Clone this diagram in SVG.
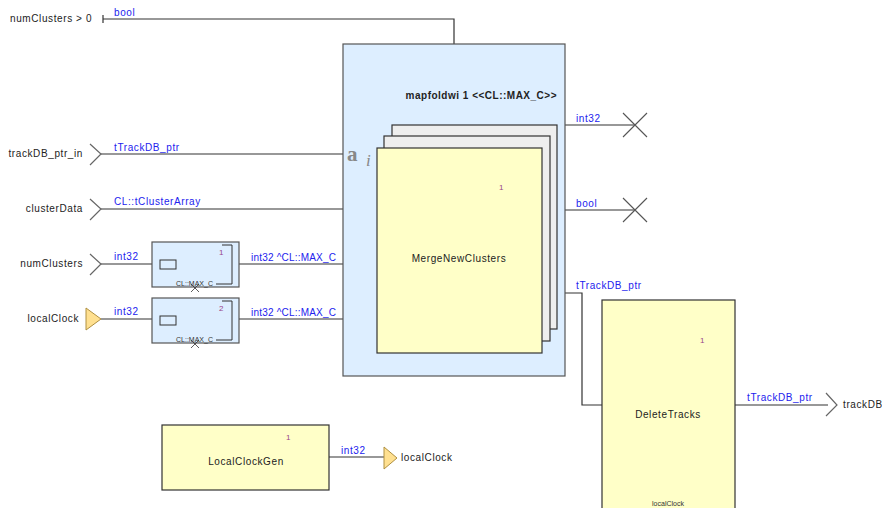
<svg xmlns="http://www.w3.org/2000/svg" width="882" height="508" viewBox="0 0 882 508">
<style>
.lbl{font-family:"Liberation Sans",Arial,sans-serif;font-size:10px;fill:#222;letter-spacing:0.6px}
.typ{font-family:"Liberation Sans",Arial,sans-serif;font-size:10px;fill:#2222ee;letter-spacing:0.6px}
.num{font-family:"Liberation Sans",Arial,sans-serif;font-size:8px;fill:#994488}
.tiny{font-family:"Liberation Sans",Arial,sans-serif;font-size:7px;fill:#333}
.wire{stroke:#333;stroke-width:1.2;fill:none}
.op{fill:#ffffc8;stroke:#333;stroke-width:1.2}
.it{fill:#ddeeff;stroke:#555;stroke-width:1.2}
.pg{fill:#eeeeee;stroke:#333;stroke-width:1.2}
.chev{stroke:#666;stroke-width:1.2;fill:none}
.tri{fill:#ffe090;stroke:#b09040;stroke-width:1}
</style>

<g id="connectors">
  <polyline class="wire" points="103,19 454,19 454,44"/>
  <line class="wire" x1="103" y1="15" x2="103" y2="23"/>
  <line class="wire" x1="101" y1="154" x2="343" y2="154"/>
  <line class="wire" x1="101" y1="209" x2="343" y2="209"/>
  <line class="wire" x1="101" y1="264" x2="152" y2="264"/>
  <line class="wire" x1="101" y1="319" x2="152" y2="319"/>
  <line class="wire" x1="239" y1="264" x2="343" y2="264"/>
  <line class="wire" x1="239" y1="319" x2="343" y2="319"/>
  <line class="wire" x1="565" y1="125" x2="635" y2="125"/>
  <line class="wire" x1="565" y1="210" x2="635" y2="210"/>
  <polyline class="wire" points="565,293 582,293 582,405 602,405"/>
  <line class="wire" x1="735" y1="405" x2="828" y2="405"/>
  <line class="wire" x1="329" y1="457" x2="384" y2="457"/>
  <text class="typ" x="114" y="16">bool</text>
  <text class="typ" x="114" y="151">tTrackDB_ptr</text>
  <text class="typ" x="114" y="205">CL::tClusterArray</text>
  <text class="typ" x="114" y="260">int32</text>
  <text class="typ" x="114" y="315">int32</text>
  <text class="typ" x="251" y="261" style="letter-spacing:0.2px">int32 ^CL::MAX_C</text>
  <text class="typ" x="251" y="316" style="letter-spacing:0.2px">int32 ^CL::MAX_C</text>
  <text class="typ" x="576" y="122">int32</text>
  <text class="typ" x="576" y="207">bool</text>
  <text class="typ" x="576" y="289">tTrackDB_ptr</text>
  <text class="typ" x="747" y="401">tTrackDB_ptr</text>
  <text class="typ" x="341" y="454">int32</text>
</g>

<g id="in_numClustersGt0">
  <text class="lbl" x="10" y="22">numClusters &gt; 0</text>
</g>
<g id="in_trackDB_ptr_in">
  <text class="lbl" x="83" y="157" text-anchor="end">trackDB_ptr_in</text>
  <polyline class="chev" points="90,144 101,154 90,165"/>
</g>
<g id="in_clusterData">
  <text class="lbl" x="83" y="212" text-anchor="end">clusterData</text>
  <polyline class="chev" points="90,199 101,209 90,220"/>
</g>
<g id="in_numClusters">
  <text class="lbl" x="83" y="267" text-anchor="end">numClusters</text>
  <polyline class="chev" points="90,254 101,264 90,275"/>
</g>
<g id="in_localClock">
  <text class="lbl" x="79" y="322" text-anchor="end">localClock</text>
  <polygon class="tri" points="86,308 101,319 86,330"/>
</g>

<g id="rep1">
  <rect class="it" x="152" y="242" width="87" height="45"/>
  <rect x="160" y="260" width="16" height="9" fill="none" stroke="#333" stroke-width="1"/>
  <polyline fill="none" stroke="#333" stroke-width="1" points="222,245 232,245 232,284 216,284"/>
  <text class="num" x="219" y="255">1</text>
  <text class="tiny" x="176" y="286">CL::MAX_C</text>
  <path d="M191,284 L199,292 M199,284 L191,292" stroke="#333" stroke-width="0.8"/>
</g>
<g id="rep2">
  <rect class="it" x="152" y="298" width="87" height="45"/>
  <rect x="160" y="316" width="16" height="9" fill="none" stroke="#333" stroke-width="1"/>
  <polyline fill="none" stroke="#333" stroke-width="1" points="222,301 232,301 232,340 216,340"/>
  <text class="num" x="219" y="311">2</text>
  <text class="tiny" x="176" y="342">CL::MAX_C</text>
  <path d="M191,340 L199,348 M199,340 L191,348" stroke="#333" stroke-width="0.8"/>
</g>

<g id="mapfold">
  <rect class="it" x="343" y="44" width="222" height="332"/>
  <text x="557" y="99" text-anchor="end" font-family="Liberation Sans,Arial,sans-serif" font-size="10" font-weight="bold" fill="#222" letter-spacing="0.5">mapfoldwi 1 &lt;&lt;CL::MAX_C&gt;&gt;</text>
  <text x="347" y="161" font-family="Liberation Serif,serif" font-size="21" font-weight="bold" fill="#888">a</text>
  <text x="366" y="166" font-family="Liberation Serif,serif" font-size="17" font-style="italic" fill="#888">i</text>
  <rect class="pg" x="392" y="125" width="165" height="204"/>
  <rect class="pg" x="384" y="136" width="166" height="205"/>
</g>
<g id="MergeNewClusters">
  <rect class="op" x="377" y="148" width="165" height="205"/>
  <text class="num" x="499" y="190">1</text>
  <text class="lbl" x="459" y="262" text-anchor="middle">MergeNewClusters</text>
</g>

<g id="out_int32">
  <path d="M623,113 L647,137 M647,113 L623,137" stroke="#555" stroke-width="1.1"/>
</g>
<g id="out_bool">
  <path d="M623,198 L647,222 M647,198 L623,222" stroke="#555" stroke-width="1.1"/>
</g>

<g id="DeleteTracks">
  <rect class="op" x="602" y="300" width="133" height="212"/>
  <text class="num" x="700" y="343">1</text>
  <text class="lbl" x="668" y="418" text-anchor="middle">DeleteTracks</text>
  <text class="tiny" x="668" y="506" text-anchor="middle">localClock</text>
</g>

<g id="out_trackDB">
  <polyline class="chev" points="826,393 837,405 826,416"/>
  <text class="lbl" x="843" y="408">trackDB</text>
</g>

<g id="LocalClockGen">
  <rect class="op" x="162" y="425" width="167" height="65"/>
  <text class="num" x="286" y="440">1</text>
  <text class="lbl" x="246" y="465" text-anchor="middle">LocalClockGen</text>
</g>
<g id="out_localClock">
  <polygon class="tri" points="384,447 397,458 384,469"/>
  <text class="lbl" x="401" y="461">localClock</text>
</g>
</svg>
